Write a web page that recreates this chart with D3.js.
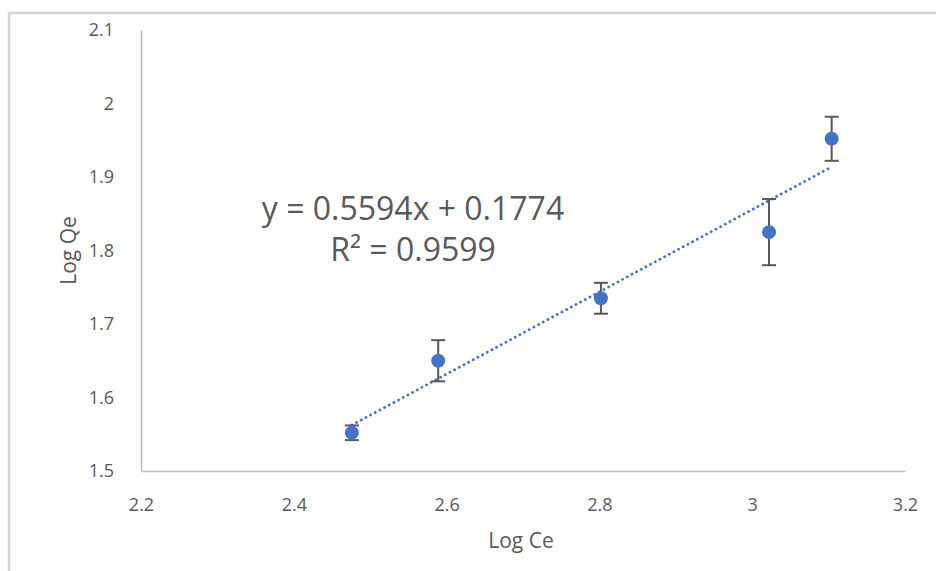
<!DOCTYPE html>
<html>
<head>
<meta charset="utf-8">
<script src="https://cdn.jsdelivr.net/npm/d3@7/dist/d3.min.js"></script>
<style>
html,body{margin:0;padding:0;background:#fff;}
svg{display:block;}
</style>
</head>
<body>
<svg id="chart" width="936" height="571"></svg>
<script>
const logCe = [2.476, 2.589, 2.802, 3.022, 3.104];
const logQe = [1.552, 1.650, 1.735, 1.825, 1.952];
const errQe = [0.010, 0.028, 0.021, 0.045, 0.030];
const xTicks = [2.2, 2.4, 2.6, 2.8, 3, 3.2];
const yTicks = [1.5, 1.6, 1.7, 1.8, 1.9, 2, 2.1];
const slope = 0.5594, intercept = 0.1774;
const eqLines = ["y = 0.5594x + 0.1774", "R² = 0.9599"];

const svg = d3.select("#chart");
const font = "'Open Sans', sans-serif";
const textCol = "#595959";

// outer frame
svg.append("rect").attr("x", 9).attr("y", 13).attr("width", 1000).attr("height", 1000)
  .attr("fill", "none").attr("stroke", "#d4d4d4").attr("stroke-width", 2.5);

const x = d3.scaleLinear().domain([2.2, 3.2]).range([141, 905]);
const y = d3.scaleLinear().domain([1.5, 2.1]).range([471, 30]);

const fmt = d => String(d);

const xAxis = svg.append("g").attr("transform", `translate(0,${y(1.5)})`)
  .call(d3.axisBottom(x).tickValues(xTicks).tickFormat(fmt).tickSize(0).tickPadding(27));
const yAxis = svg.append("g").attr("transform", `translate(${x(2.2)},0)`)
  .call(d3.axisLeft(y).tickValues(yTicks).tickFormat(fmt).tickSize(0).tickPadding(27));
[xAxis, yAxis].forEach(a => {
  a.select(".domain").attr("stroke", "#bfbfbf").attr("stroke-width", 1.5);
  a.selectAll("text").attr("fill", textCol).style("font-family", font).style("font-size", "18px");
});

// axis titles
svg.append("text").attr("x", (x(2.2) + x(3.2)) / 2 - 2).attr("y", 548).attr("text-anchor", "middle")
  .attr("fill", textCol).style("font-family", font).style("font-size", "21px").text("Log Ce");
svg.append("text").attr("transform", `translate(76,${(y(1.5) + y(2.1)) / 2}) rotate(-90)`)
  .attr("text-anchor", "middle").attr("fill", textCol).style("font-family", font).style("font-size", "21px").text("Log Qe");

const data = logCe.map((v, i) => ({x: v, y: logQe[i], e: errQe[i]}));

// trendline
const x0 = d3.min(logCe), x1 = d3.max(logCe);
svg.append("line")
  .attr("x1", x(x0)).attr("y1", y(slope * x0 + intercept))
  .attr("x2", x(x1)).attr("y2", y(slope * x1 + intercept))
  .attr("stroke", "#4472C4").attr("stroke-width", 2.8)
  .attr("stroke-dasharray", "0.1,5.2").attr("stroke-linecap", "round");

// error bars
const eb = svg.append("g").attr("stroke", "#595959").attr("stroke-width", 2);
data.forEach(d => {
  eb.append("line").attr("x1", x(d.x)).attr("x2", x(d.x)).attr("y1", y(d.y + d.e)).attr("y2", y(d.y - d.e));
  [d.y + d.e, d.y - d.e].forEach(v => {
    eb.append("line").attr("x1", x(d.x) - 7).attr("x2", x(d.x) + 7).attr("y1", y(v)).attr("y2", y(v));
  });
});

// points
svg.append("g").selectAll("circle").data(data).join("circle")
  .attr("cx", d => x(d.x)).attr("cy", d => y(d.y)).attr("r", 7).attr("fill", "#4472C4");

// equation (two separate text lines)
eqLines.forEach((t, i) => {
  svg.append("text").attr("text-anchor", "middle").attr("fill", textCol)
    .style("font-family", font).style("font-size", "32px")
    .attr("x", 413).attr("y", 220 + i * 41).text(t);
});
</script>
</body>
</html>
